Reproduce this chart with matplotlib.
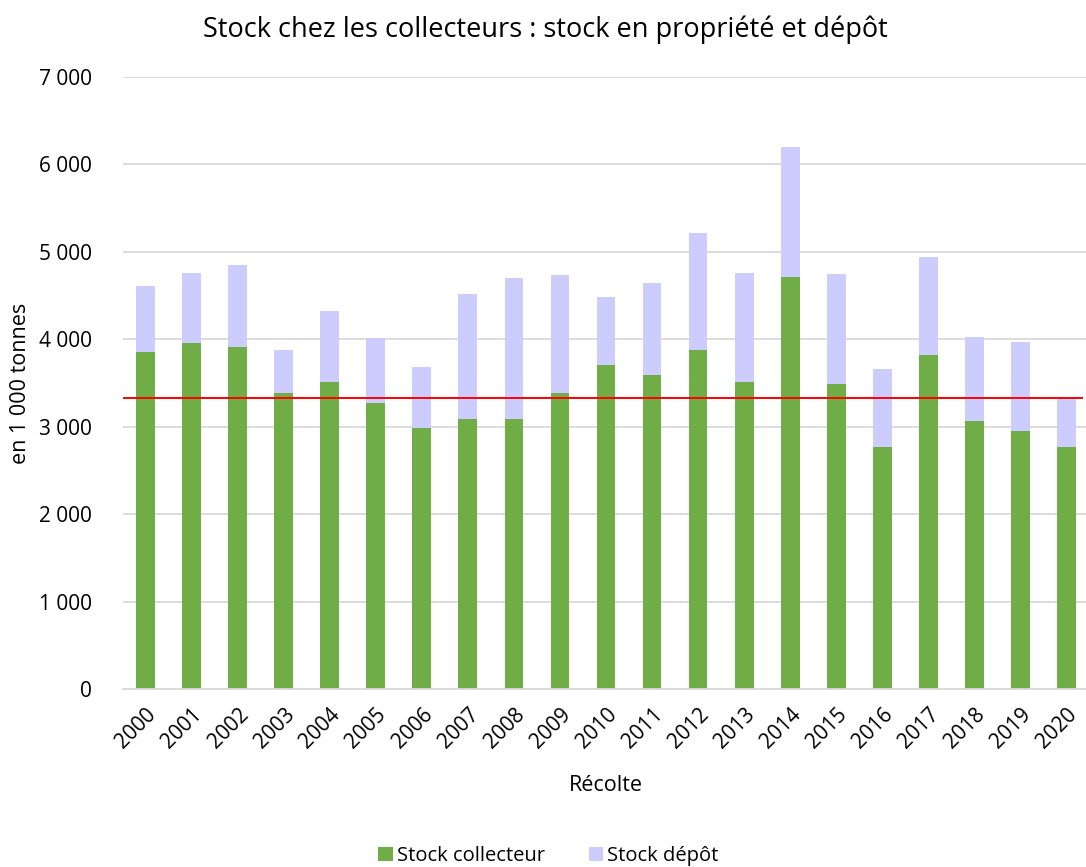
import numpy as np
import matplotlib.pyplot as plt
from matplotlib.ticker import FuncFormatter

plt.rcParams['font.family'] = ['Open Sans', 'DejaVu Sans']

# Récoltes et stocks (en 1 000 tonnes)
annees = ['2000', '2001', '2002', '2003', '2004', '2005', '2006', '2007', '2008', '2009', '2010',
          '2011', '2012', '2013', '2014', '2015', '2016', '2017', '2018', '2019', '2020']
stock_collecteur = [3855, 3955, 3910, 3385, 3515, 3270, 2985, 3090, 3090, 3385, 3705,
                    3590, 3880, 3515, 4710, 3485, 2765, 3820, 3065, 2955, 2765]
stock_total = [4610, 4760, 4850, 3880, 4320, 4010, 3685, 4520, 4700, 4730, 4480,
               4640, 5215, 4760, 6195, 4750, 3660, 4940, 4030, 3970, 3325]
stock_depot = [t - c for t, c in zip(stock_total, stock_collecteur)]

vert = '#70AD47'
lavande = '#CCCCFF'

fig = plt.figure(figsize=(10.86, 8.67), dpi=100)
ax = fig.add_axes([0.113, 0.2053, 0.89, 0.7059])

x = np.arange(len(annees))
ax.bar(x, stock_collecteur, width=0.41, color=vert, label='Stock collecteur', zorder=2)
ax.bar(x, stock_depot, width=0.41, bottom=stock_collecteur, color=lavande,
       label='Stock dépôt', zorder=2)

# niveau de la dernière récolte
ax.axhline(stock_total[-1], color='#FF0000', lw=1.4, xmin=0, xmax=0.993, zorder=3)

ax.set_xlim(-0.5, len(annees) - 0.5)
ax.set_ylim(0, 7000)
ax.set_yticks(range(0, 7001, 1000))
ax.yaxis.set_major_formatter(FuncFormatter(lambda v, p: f'{int(v):,}'.replace(',', ' ')))
ax.grid(axis='y', color='#D9D9D9', lw=1.3, zorder=0)
ax.set_axisbelow(True)
for s in ['top', 'right', 'left']:
    ax.spines[s].set_visible(False)
ax.spines['bottom'].set_color('#D9D9D9')
ax.spines['bottom'].set_linewidth(1.3)

ax.set_xticks(x)
ax.set_xticklabels(annees, rotation=45, ha='right', rotation_mode='anchor', fontsize=15)
ax.tick_params(axis='both', length=0, labelsize=15, colors='#000000')
ax.tick_params(axis='x', pad=11)
ax.tick_params(axis='y', pad=22)

ax.set_ylabel('en 1 000 tonnes', fontsize=15.5, labelpad=6)
ax.set_xlabel('Récolte', fontsize=15.5, labelpad=16)
fig.suptitle('Stock chez les collecteurs : stock en propriété et dépôt', fontsize=19.5, x=0.502, y=0.982)

fig.legend(loc='lower center', bbox_to_anchor=(0.505, -0.02), ncol=2, frameon=False,
           fontsize=14.5, handlelength=0.7, handleheight=0.7, handletextpad=0.2, columnspacing=2.2)

fig.savefig('out.png', dpi=100)
